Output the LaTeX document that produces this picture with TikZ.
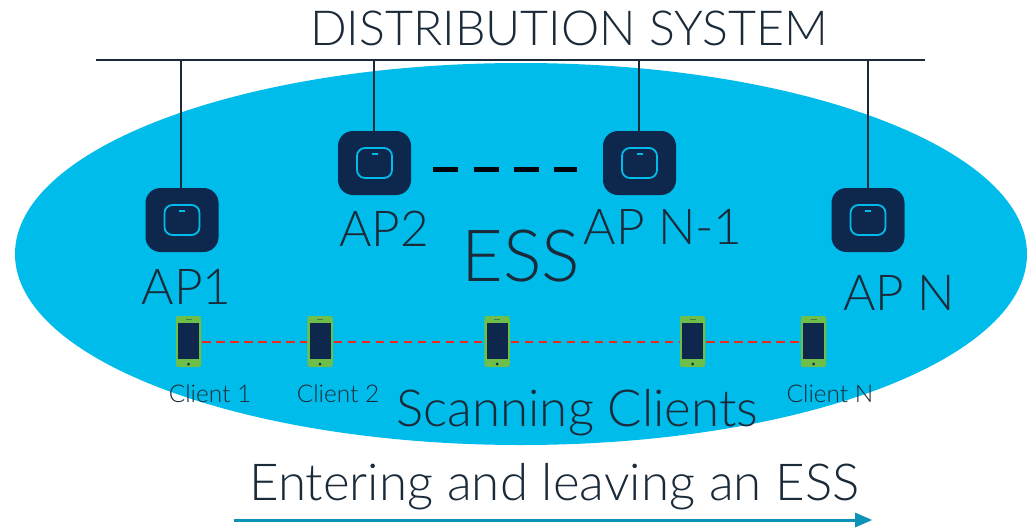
\documentclass[tikz,border=0pt]{standalone}
\usepackage{fontspec}
\setmainfont{Lato}[UprightFont=* Light]
\definecolor{cyanfill}{HTML}{00BCEB}
\definecolor{navy}{HTML}{0D274D}
\definecolor{phonegreen}{HTML}{6EBE4A}
\definecolor{arrowblue}{HTML}{0A93B7}
\definecolor{ink}{HTML}{1A2A38}
\definecolor{dashred}{HTML}{F0281E}
\tikzset{
  x=1pt,y=-1pt,
  apbox/.style={draw=none,fill=navy,rounded corners=15pt,minimum width=73pt,minimum height=64pt,inner sep=0pt},
  apicon/.style={draw=cyanfill,line width=1.8pt,rounded corners=8pt,minimum width=35pt,minimum height=30pt,inner sep=0pt},
  phonebox/.style={fill=phonegreen,rounded corners=2.5pt,minimum width=25.5pt,minimum height=51pt,inner sep=0pt},
  wire/.style={line width=1.4pt,draw=ink},
  reddash/.style={line width=2pt,dashred,dash pattern=on 8.5pt off 5.5pt,shorten <=1pt},
  lbl/.style={inner sep=0pt,text=ink},
  biglbl/.style={lbl,font=\fontsize{51}{51}\selectfont},
  dslbl/.style={lbl,font=\fontsize{48.3}{48.3}\selectfont},
  aplbl/.style={lbl,font=\fontsize{49.5}{49.5}\selectfont},
  clientlbl/.style={lbl,font=\fontsize{24.4}{24.4}\selectfont},
}
\newcommand{\apunit}[3]{%
  \node[apbox] (#1) at (#2,#3) {};
  \node[apicon] at (#2,#3) {};
  \fill[cyanfill] (#2-3,#3-9.6) rectangle (#2+3,#3-8.2);
}
\newcommand{\phoneunit}[3]{%
  \node[phonebox] (#1) at (#2,#3) {};
  \fill[navy] (#2-10.5,#3-18.5) rectangle (#2+10.5,#3+17.5);
  \fill[navy!45!phonegreen] (#2-3,#3-23) rectangle (#2+3,#3-21.5);
  \fill[navy] (#2,#3+22.5) circle (1.5);
}
\begin{document}
\begin{tikzpicture}
\useasboundingbox (0,0) rectangle (1027,530);
\fill[cyanfill] (521,254) ellipse [x radius=506,y radius=191];
% bus
\coordinate (busl) at (96,60);
\coordinate (busr) at (925,60);
\draw[wire] (busl) -- (busr);
\coordinate (t1) at (181,60);
\coordinate (t2) at (374,60);
\coordinate (t3) at (639,60);
\coordinate (t4) at (868,60);
% access points
\apunit{ap1}{182}{220}
\apunit{ap2}{374.5}{163}
\apunit{apn1}{639.5}{163}
\apunit{apn}{868}{220}
\draw[wire] (t1) -- (t1 |- ap1.north);
\draw[wire] (t2) -- (t2 |- ap2.north);
\draw[wire] (t3) -- (t3 |- apn1.north);
\draw[wire] (t4) -- (t4 |- apn.north);
\coordinate (dl) at ([xshift=22pt,yshift=-6pt]ap2.east);
\coordinate (dr) at ([xshift=-26pt,yshift=-6pt]apn1.west);
\draw[line width=5pt,color=black!85!navy,dash pattern=on 25pt off 15.3pt] (dl) -- (dr);
% clients
\phoneunit{c1}{188.5}{341.5}
\phoneunit{c2}{320}{341.5}
\phoneunit{c3}{497}{341.5}
\phoneunit{c4}{692.5}{341.5}
\phoneunit{c5}{813.5}{341.5}
\draw[reddash] (c1.east) -- (c2.west);
\draw[reddash] (c2.east) -- (c3.west);
\draw[reddash] (c3.east) -- (c4.west);
\draw[reddash] (c4.east) -- (c5.west);
% text
\node[dslbl] (ds) at (569,28) {DISTRIBUTION SYSTEM};
\node[aplbl] (l1) at (186.5,287) {AP1};
\node[aplbl] (l2) at (384,229) {AP2};
\node[aplbl] (l3) at (663,227) {AP N-1};
\node[aplbl] (l4) at (899,293) {AP N};
\node[lbl,font=\fontsize{72}{72}\selectfont] (ess) at (521,256) {ESS};
\node[clientlbl] (n1) at (210,394) {Client 1};
\node[clientlbl] (n2) at (338,394) {Client 2};
\node[clientlbl] (n3) at (830,394) {Client N};
\node[biglbl] (sc) at (577.5,413) {Scanning Clients};
\node[biglbl] (en) at (554.5,487) {Entering and leaving an ESS};
% arrow
\coordinate (al) at (234,520);
\coordinate (ar) at (872,520);
\draw[line width=3pt,draw=arrowblue] (al) -- (855,520);
\fill[arrowblue] (855,512.5) -- (ar) -- (855,527.5) -- cycle;
\end{tikzpicture}
\end{document}
